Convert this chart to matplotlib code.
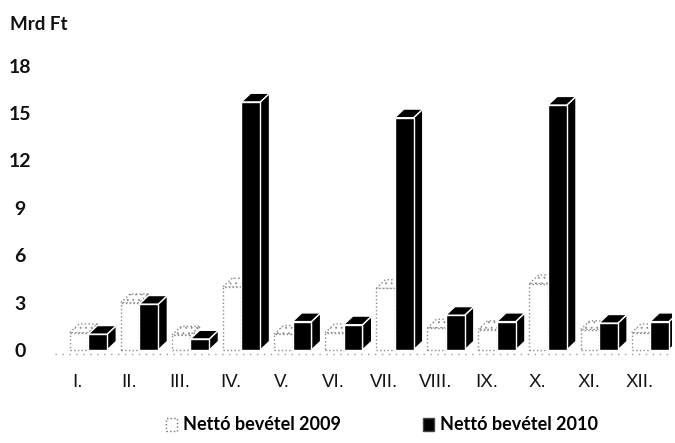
import matplotlib
matplotlib.use("Agg")
import matplotlib.pyplot as plt
from matplotlib.patches import Polygon, Rectangle
import numpy as np

MONTHS = ["I.", "II.", "III.", "IV.", "V.", "VI.", "VII.", "VIII.", "IX.", "X.", "XI.", "XII."]
NET_2009 = [1.1, 3.0, 0.95, 4.0, 1.0, 1.1, 3.9, 1.4, 1.3, 4.2, 1.3, 1.1]
NET_2010 = [1.0, 2.9, 0.7, 15.7, 1.8, 1.6, 14.7, 2.2, 1.8, 15.5, 1.7, 1.8]
Y_TICKS = [0, 3, 6, 9, 12, 15, 18]
LABEL_2009 = "Nettó bevétel 2009"
LABEL_2010 = "Nettó bevétel 2010"

BOLD = ["Lato", "DejaVu Sans"]
NARROW = ["Liberation Sans Narrow", "Liberation Sans", "DejaVu Sans"]

# pseudo-3D geometry in data units
DX = 0.18
DY = 0.55


def box(ax, x0, w, h, face, edge, ls="-", lw=0.8, hatch=None, z=2):
    front = Rectangle((x0, 0), w, h, facecolor=face, edgecolor=edge,
                      linestyle=ls, linewidth=lw, zorder=z)
    top = Polygon([(x0, h), (x0 + DX, h + DY), (x0 + w + DX, h + DY), (x0 + w, h)],
                  closed=True, facecolor=face, edgecolor=edge, linestyle=ls,
                  linewidth=lw, hatch=hatch, zorder=z)
    side = Polygon([(x0 + w, 0), (x0 + w + DX, DY), (x0 + w + DX, h + DY), (x0 + w, h)],
                   closed=True, facecolor=face, edgecolor=edge, linestyle=ls,
                   linewidth=lw, hatch=hatch, zorder=z)
    for p in (side, top, front):
        ax.add_patch(p)


plt.rcParams["hatch.color"] = "#9a9a9a"
plt.rcParams["hatch.linewidth"] = 0.6

fig = plt.figure(figsize=(6.75, 4.43), dpi=100)
ax = fig.add_axes([55 / 675, 1 - 360 / 443, 617 / 675, 320 / 443])
ax.set_xlim(-0.45, 11.63)
ax.set_ylim(-0.63, 19.62)

x = np.arange(len(MONTHS))
for i in x:
    box(ax, i - 0.16, 0.36, NET_2009[i], "white", "#8a8a8a", ls=":", lw=1.0,
        hatch="...", z=2)
    box(ax, i + 0.2, 0.37, NET_2010[i], "black", "white", lw=1.0, z=3)

ax.hlines(-0.25, -0.45, 11.6, colors="#9a9a9a", linestyles=(0, (1, 4)),
          linewidth=1.0, zorder=1)

for s in ax.spines.values():
    s.set_visible(False)
ax.set_xticks(x)
ax.set_xticklabels(MONTHS, fontfamily=NARROW, fontsize=13.5, color="#111111")
ax.set_yticks(Y_TICKS)
ax.set_yticklabels([str(t) for t in Y_TICKS], fontfamily=BOLD, fontweight="bold",
                   fontsize=14, color="#111111")
ax.tick_params(axis="x", length=0, pad=10)
ax.tick_params(axis="y", length=0, pad=25)
for lbl in ax.get_yticklabels():
    lbl.set_horizontalalignment("center")

fig.text(10 / 675, 1 - 25 / 443, "Mrd Ft", fontfamily=BOLD, fontweight="bold",
         fontsize=13.5, color="#111111", va="center", ha="left")

h1 = Rectangle((0, 0), 1, 1, facecolor="white", edgecolor="#777777", linestyle=":",
               linewidth=1.0)
h2 = Rectangle((0, 0), 1, 1, facecolor="black", edgecolor="#444444")
leg = fig.legend([h1, h2], [LABEL_2009, LABEL_2010], loc="center",
                 bbox_to_anchor=(382 / 675, 1 - 425 / 443), ncol=2, frameon=False,
                 handlelength=0.6, handleheight=0.7, handletextpad=0.3,
                 columnspacing=4.6, prop={"family": BOLD, "weight": "bold", "size": 13})

fig.savefig("out.png", dpi=100)
